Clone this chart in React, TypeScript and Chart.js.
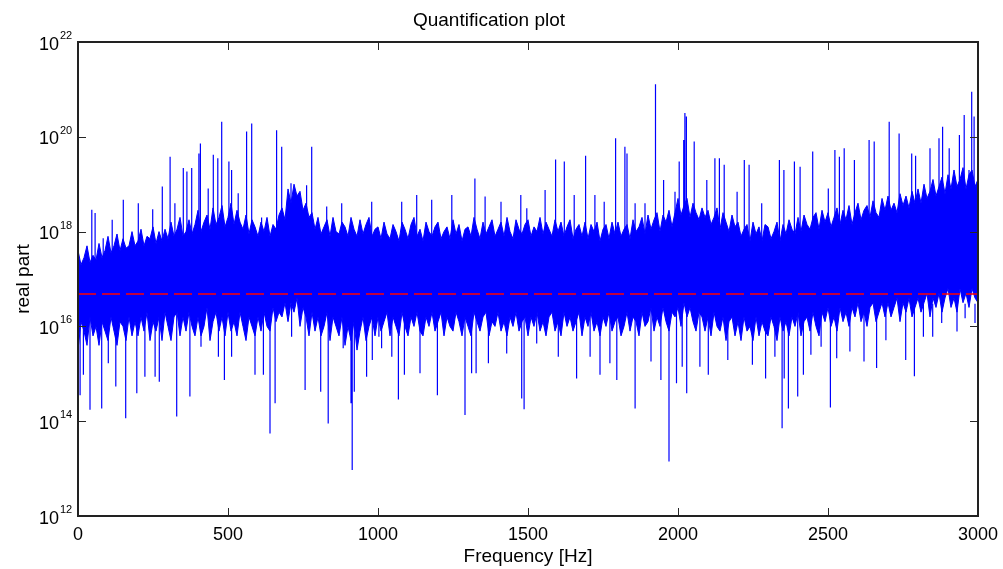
import React, { useEffect, useRef } from "react";
import { Chart, registerables } from "chart.js";

Chart.register(...registerables);

// ---------- data ----------
const TITLE = "Quantification plot";
const X_TITLE = "Frequency [Hz]";
const Y_TITLE = "real part";

const xTickValues = [0, 500, 1000, 1500, 2000, 2500, 3000];
const xTickLabels = ["0", "500", "1000", "1500", "2000", "2500", "3000"];
const yTickExponents = [12, 14, 16, 18, 20, 22];

// red dashed reference level
const thresholdLevel = 4.8e16;

// dense band: ragged upper and lower edge (log10 of value) every 10 Hz, 0..3000 Hz
const BAND_STEP_HZ = 10;
const bandTopLog10 = [
  17.6, 17.3, 17.45, 17.7, 17.35, 17.5, 17.4, 17.75, 17.45, 17.6,
  17.9, 17.55, 17.7, 17.95, 17.6, 17.85, 17.65, 17.7, 18.0, 17.7,
  17.8, 18.05, 17.7, 17.9, 17.85, 18.1, 17.75, 18.0, 17.8, 18.05,
  17.85, 18.2, 17.9, 18.05, 18.3, 17.9, 18.0, 18.25, 17.95, 18.15,
  18.45, 18.0, 18.2, 18.35, 18.05, 18.5, 18.15, 18.3, 18.55, 18.1,
  18.3, 18.6, 18.15, 18.45, 18.2, 18.05, 18.35, 17.95, 18.25, 18.1,
  17.9, 18.2, 18.0, 18.3, 17.9, 18.15, 18.05, 18.35, 18.5, 18.25,
  18.9, 18.6, 19.0, 18.75, 18.85, 18.45, 18.6, 18.3, 18.4, 18.05,
  18.3, 17.95, 18.1, 18.25, 17.9, 18.3, 18.0, 17.95, 18.2, 18.1,
  17.9, 18.3, 18.05, 17.9, 18.25, 17.95, 18.15, 18.3, 17.9, 18.05,
  18.1, 17.85, 18.2, 17.95, 17.85, 18.15, 18.0, 17.8, 18.2, 18.05,
  17.85, 18.15, 18.3, 17.9, 18.05, 17.8, 18.2, 18.0, 17.9, 18.1,
  18.2, 17.85, 18.0, 18.1, 17.85, 18.25, 17.95, 18.15, 17.8, 18.05,
  18.1, 17.9, 18.3, 18.05, 17.85, 18.2, 17.95, 18.1, 18.25, 17.9,
  18.05, 18.2, 17.9, 18.3, 18.0, 17.85, 18.25, 18.05, 17.95, 18.15,
  18.25, 17.9, 18.1, 18.0, 18.3, 17.95, 18.2, 18.05, 17.9, 18.25,
  18.0, 18.2, 17.9, 18.1, 18.25, 17.85, 18.05, 18.15, 17.9, 18.2,
  17.85, 18.15, 18.0, 18.2, 17.8, 18.05, 18.15, 17.85, 18.2, 17.95,
  18.2, 17.9, 18.05, 18.15, 17.85, 18.25, 18.0, 18.1, 18.3, 17.95,
  18.35, 18.05, 18.25, 18.4, 18.0, 18.35, 18.2, 18.45, 18.1, 18.4,
  18.7, 18.35, 18.55, 18.7, 18.3, 18.6, 18.4, 18.25, 18.5, 18.3,
  18.45, 18.15, 18.3, 18.5, 18.05, 18.4, 18.2, 18.0, 18.35, 18.1,
  18.2, 17.9, 18.05, 18.15, 17.8, 18.2, 17.95, 18.1, 17.8, 18.15,
  18.1, 17.85, 18.0, 18.2, 17.8, 18.15, 17.95, 18.25, 18.05, 17.95,
  18.3, 18.0, 18.35, 18.15, 18.05, 18.3, 18.4, 18.05, 18.45, 18.2,
  18.4, 18.1, 18.3, 18.5, 18.15, 18.45, 18.25, 18.55, 18.15, 18.4,
  18.6, 18.25, 18.45, 18.55, 18.3, 18.65, 18.4, 18.3, 18.7, 18.45,
  18.75, 18.45, 18.6, 18.4, 18.8, 18.55, 18.75, 18.5, 18.85, 18.6,
  18.9, 18.6, 19.0, 18.7, 18.85, 19.1, 18.75, 18.95, 19.15, 18.8,
  19.2, 18.9, 19.3, 18.95, 19.1, 19.35, 18.9, 19.2, 19.3, 18.95,
  19.1,
];
const bandBottomLog10 = [
  15.5, 16.1, 15.9, 15.6, 16.2, 15.8, 16.0, 15.6, 16.1, 15.9,
  15.7, 16.2, 15.9, 15.6, 16.1, 16.0, 15.7, 16.2, 15.8, 16.1,
  15.8, 16.2, 15.9, 16.3, 15.7, 16.1, 15.9, 16.2, 15.7, 16.3,
  16.0, 15.7, 16.2, 16.3, 15.8, 16.2, 15.9, 16.3, 16.0, 15.8,
  16.2, 15.8, 16.0, 16.4, 15.7, 16.1, 16.3, 15.9, 16.2, 15.8,
  16.3, 15.9, 16.1, 15.8, 16.3, 16.0, 15.7, 16.2, 16.0, 15.8,
  16.2, 15.9, 16.3, 16.0, 15.9, 16.4, 16.1, 16.3, 16.2, 16.5,
  16.1, 16.5, 16.3, 16.6, 16.0, 16.4, 16.2, 15.8, 16.3, 15.9,
  16.2, 15.8, 16.0, 16.3, 15.7, 16.2, 16.0, 15.8, 16.2, 15.6,
  16.0, 15.7, 16.1, 15.5, 15.9, 16.2, 15.7, 16.0, 16.2, 15.8,
  16.2, 15.9, 16.1, 16.3, 15.8, 16.2, 16.0, 15.8, 16.3, 16.0,
  15.8, 16.2, 16.0, 16.3, 15.9, 15.8, 16.2, 16.0, 16.3, 15.9,
  16.1, 16.3, 15.8, 16.2, 16.0, 15.9, 16.3, 16.1, 15.8, 16.2,
  16.0, 15.8, 16.3, 16.1, 15.9, 16.2, 16.3, 15.8, 16.1, 16.0,
  16.3, 15.9, 16.1, 15.8, 16.2, 16.0, 16.3, 15.9, 16.1, 16.2,
  15.8, 16.2, 16.0, 16.3, 15.9, 16.1, 15.8, 16.2, 16.3, 15.9,
  16.1, 15.8, 16.3, 16.0, 16.2, 15.9, 16.1, 16.3, 15.8, 16.2,
  16.0, 16.3, 15.9, 16.1, 15.8, 16.2, 16.0, 16.3, 15.9, 16.1,
  16.2, 15.8, 16.0, 16.3, 15.9, 16.2, 16.1, 15.8, 16.3, 16.0,
  16.1, 16.4, 15.9, 16.2, 16.0, 16.4, 16.1, 15.9, 16.3, 16.2,
  16.4, 16.0, 16.5, 16.2, 16.4, 16.1, 15.9, 16.3, 16.2, 15.9,
  16.2, 15.8, 16.3, 16.0, 15.9, 16.2, 15.7, 16.1, 16.2, 15.8,
  16.1, 15.7, 16.2, 15.9, 16.0, 15.7, 16.2, 15.8, 16.1, 15.9,
  15.8, 16.2, 16.0, 15.7, 16.2, 15.9, 16.1, 15.8, 16.2, 16.0,
  16.3, 15.8, 16.1, 16.2, 15.9, 16.3, 16.0, 15.8, 16.3, 16.1,
  16.4, 16.0, 16.2, 15.9, 16.4, 16.1, 16.3, 16.0, 16.4, 16.2,
  16.5, 16.1, 16.3, 16.0, 16.4, 16.5, 16.1, 16.3, 16.5, 16.2,
  16.5, 16.2, 16.4, 16.6, 16.1, 16.5, 16.3, 16.6, 16.2, 16.4,
  16.6, 16.3, 16.5, 16.7, 16.2, 16.6, 16.4, 16.7, 16.3, 16.6,
  16.8, 16.4, 16.6, 16.3, 16.8, 16.5, 16.7, 16.4, 16.8, 16.6,
  16.5,
];

// isolated upward spikes (Hz, log10 of peak)
const peakHz = [
  0, 46, 57, 84, 114, 151, 201, 249, 281, 307, 323, 351, 363, 379, 403, 408, 434, 451, 466, 479,
  503, 512, 534, 562, 579, 612, 662, 679, 710, 762, 779, 829, 879, 979,
  1079, 1129, 1179, 1246, 1323, 1357, 1410, 1476, 1496, 1557, 1592, 1621, 1654, 1692, 1723, 1754,
  1792, 1823, 1830, 1857, 1890, 1925, 1952, 1990, 2004,
  2019, 2023, 2028, 2054, 2096, 2123, 2138, 2154, 2197, 2221, 2237, 2279, 2338, 2353, 2388, 2407,
  2449, 2501, 2523, 2538, 2554, 2588, 2637, 2654, 2704, 2737, 2779, 2792, 2840, 2870, 2882, 2904,
  2938, 2954, 2970, 2979, 2987,
];
const peakLog10 = [
  18.49, 18.46, 18.39, 17.86, 18.25, 18.67, 18.6, 18.47, 18.95, 19.58, 18.6, 19.34, 19.27, 19.34, 19.65, 19.86, 18.91, 19.62, 19.55, 20.32,
  19.48, 19.3, 18.81, 20.11, 20.28, 18.3, 20.14, 19.79, 19.02, 18.98, 19.79, 18.53, 18.6, 18.63,
  18.63, 18.77, 18.67, 18.77, 19.12, 18.74, 18.63, 18.77, 18.49, 18.88, 19.52, 19.48, 18.77, 19.6, 18.77, 18.63,
  19.97, 19.79, 19.65, 18.6, 18.6, 21.11, 19.09, 18.84, 19.48,
  19.93, 20.5, 20.43, 19.9, 19.09, 19.55, 19.55, 19.41, 18.84, 19.51, 19.41, 18.6, 19.51, 19.3, 19.48, 19.37,
  19.69, 18.91, 19.72, 19.58, 19.76, 19.51, 19.93, 19.9, 20.32, 20.07, 19.65, 19.6, 19.76, 19.97, 20.21, 19.76,
  20.04, 20.46, 19.3, 20.95, 20.43,
];

// isolated downward spikes (Hz, log10 of minimum)
const dipHz = [
  1, 7, 18, 40, 79, 101, 126, 159, 196, 223, 257, 271, 329, 373, 410, 468, 488, 512, 590, 618,
  640, 657, 712, 757, 809, 834, 884, 910, 914, 921, 962, 981, 1003,
  1012, 1046, 1068, 1088, 1140, 1198, 1290, 1312, 1327, 1368, 1429, 1479, 1487, 1529, 1601, 1662, 1707, 1740,
  1773, 1796, 1857, 1910, 1943, 1970, 1995,
  2014, 2029, 2073, 2101, 2166, 2248, 2292, 2323, 2347, 2354, 2368, 2399, 2418, 2443, 2477, 2508, 2529, 2573,
  2620, 2662, 2693, 2759, 2788, 2818, 2849, 2879, 2930, 2957, 2990,
];
const dipLog10 = [
  13.74, 14.55, 14.98, 14.24, 14.27, 15.22, 14.73, 14.06, 14.59, 14.94, 14.94, 14.83, 14.1, 14.52, 15.57, 15.36, 14.87, 15.36, 14.98, 14.98,
  13.74, 14.38, 15.78, 14.66, 14.62, 13.95, 15.54, 14.38, 12.97, 14.62, 14.94, 15.29, 15.78,
  15.54, 15.36, 14.46, 14.98, 15.01, 14.55, 14.13, 15.01, 15.01, 15.22, 15.43, 14.48, 14.25, 15.64, 15.36, 14.9, 15.36, 14.98,
  15.22, 14.87, 14.27, 15.26, 14.87, 13.15, 14.8,
  15.15, 14.59, 15.15, 14.98, 15.29, 15.19, 14.9, 15.36, 13.85, 14.9, 14.27, 14.52, 14.98, 15.4, 15.57, 14.29, 15.33, 15.47,
  15.26, 15.12, 15.71, 15.29, 14.95, 15.78, 15.78, 16.07, 15.89, 16.17, 16.07,
];

// anchors inside the solid band from which spikes are drawn
const PEAK_BASE = 1e17;
const DIP_BASE = 3e16;

// ---------- styling ----------
const FONT = '"Liberation Sans", Arial, Helvetica, sans-serif';
const BLUE = "#0000ff";
const W = 1003;
const H = 569;
const PLOT_LEFT = 78;
const RIGHT_PAD = 25;
const PLOT_BOTTOM = 516;

const framePlugin = {
  id: "matlabFrame",
  afterDraw(chart: any) {
    const { ctx, chartArea } = chart;
    const { left, right, top, bottom } = chartArea;
    const xs = chart.scales.x;
    const ys = chart.scales.y;
    ctx.save();
    ctx.strokeStyle = "#262626";
    ctx.lineWidth = 1;
    const tl = 8;
    ctx.beginPath();
    xTickValues.forEach((v) => {
      const px = Math.round(xs.getPixelForValue(v)) + 0.5;
      ctx.moveTo(px, bottom);
      ctx.lineTo(px, bottom - tl);
      ctx.moveTo(px, top);
      ctx.lineTo(px, top + tl);
    });
    yTickExponents.forEach((e) => {
      const py = Math.round(ys.getPixelForValue(Math.pow(10, e))) + 0.5;
      ctx.moveTo(left, py);
      ctx.lineTo(left + tl, py);
      ctx.moveTo(right, py);
      ctx.lineTo(right - tl, py);
    });
    ctx.stroke();
    ctx.lineWidth = 2;
    ctx.strokeStyle = "#222222";
    ctx.strokeRect(left, top, right - left, bottom - top);

    // y tick labels with superscript exponents
    ctx.fillStyle = "#000000";
    ctx.textBaseline = "alphabetic";
    yTickExponents.forEach((e) => {
      const py = ys.getPixelForValue(Math.pow(10, e));
      ctx.font = `18px ${FONT}`;
      ctx.textAlign = "right";
      ctx.fillText("10", left - 19, py + 7.5);
      ctx.font = `11px ${FONT}`;
      ctx.textAlign = "left";
      ctx.fillText(String(e), left - 18, py - 3);
    });
    ctx.restore();
  },
};

export default function App() {
  const canvasRef = useRef<HTMLCanvasElement | null>(null);

  useEffect(() => {
    const canvas = canvasRef.current;
    if (!canvas) return;

    const bandTop = bandTopLog10.map((v, i) => ({ x: i * BAND_STEP_HZ, y: Math.pow(10, v) }));
    const bandBottom = bandBottomLog10.map((v, i) => ({ x: i * BAND_STEP_HZ, y: Math.pow(10, v) }));

    const spikes: { x: number; y: number | null }[] = [];
    peakHz.forEach((hz, i) => {
      spikes.push({ x: hz, y: PEAK_BASE }, { x: hz, y: Math.pow(10, peakLog10[i]) }, { x: hz, y: null });
    });
    dipHz.forEach((hz, i) => {
      spikes.push({ x: hz, y: DIP_BASE }, { x: hz, y: Math.pow(10, dipLog10[i]) }, { x: hz, y: null });
    });

    const threshold = [
      { x: xTickValues[0], y: thresholdLevel },
      { x: xTickValues[xTickValues.length - 1], y: thresholdLevel },
    ];

    const chart = new Chart(canvas, {
      type: "line",
      data: {
        datasets: [
          {
            label: "threshold",
            data: threshold,
            borderColor: "#ff0000",
            borderWidth: 1.5,
            borderDash: [18, 6],
            pointRadius: 0,
            fill: false,
            order: 0,
          },
          {
            label: "spikes",
            data: spikes as any,
            borderColor: BLUE,
            borderWidth: 1.2,
            pointRadius: 0,
            fill: false,
            spanGaps: false,
            order: 1,
          },
          {
            label: "band top",
            data: bandTop,
            borderColor: BLUE,
            borderWidth: 1,
            pointRadius: 0,
            fill: false,
            order: 2,
          },
          {
            label: "band bottom",
            data: bandBottom,
            borderColor: BLUE,
            backgroundColor: BLUE,
            borderWidth: 1,
            pointRadius: 0,
            fill: "-1",
            order: 3,
          },
        ],
      },
      options: {
        animation: false,
        responsive: false,
        maintainAspectRatio: false,
        devicePixelRatio: 1,
        parsing: { xAxisKey: "x", yAxisKey: "y" },
        elements: { line: { tension: 0 } },
        layout: { padding: { left: 0, right: RIGHT_PAD, top: 0, bottom: 0 } },
        plugins: {
          legend: { display: false },
          tooltip: { enabled: false },
          title: {
            display: true,
            text: TITLE,
            color: "#000000",
            font: { family: FONT, size: 19, weight: "normal" },
            padding: { top: 9, bottom: 10.2 },
          },
        },
        scales: {
          x: {
            type: "linear",
            min: 0,
            max: 3000,
            grid: { display: false, drawTicks: false },
            border: { display: false },
            afterBuildTicks: (scale: any) => {
              scale.ticks = xTickValues.map((v) => ({ value: v }));
            },
            afterFit: (scale: any) => {
              scale.height = H - PLOT_BOTTOM;
              scale.paddingLeft = 0;
              scale.paddingRight = 0;
            },
            ticks: {
              color: "#000000",
              font: { family: FONT, size: 18 },
              padding: 8,
              maxRotation: 0,
              autoSkip: false,
              callback: (_v: any, i: number) => xTickLabels[i],
            },
            title: {
              display: true,
              text: X_TITLE,
              color: "#000000",
              font: { family: FONT, size: 19 },
              padding: { top: 0, bottom: 1 },
            },
          },
          y: {
            type: "logarithmic",
            min: 1e12,
            max: 1e22,
            grid: { display: false, drawTicks: false },
            border: { display: false },
            ticks: { display: false },
            afterBuildTicks: (scale: any) => {
              scale.ticks = yTickExponents.map((e) => ({ value: Math.pow(10, e) }));
            },
            afterFit: (scale: any) => {
              scale.width = PLOT_LEFT;
              scale.paddingTop = 0;
              scale.paddingBottom = 0;
            },
            title: {
              display: true,
              text: Y_TITLE,
              color: "#000000",
              font: { family: FONT, size: 19 },
              padding: { top: 12, bottom: 0 },
            },
          },
        },
      },
      plugins: [framePlugin],
    });

    return () => chart.destroy();
  }, []);

  return (
    <div style={{ position: "absolute", left: 0, top: 0, width: W, height: H, background: "#ffffff" }}>
      <canvas ref={canvasRef} width={W} height={H} style={{ width: W, height: H, display: "block" }} />
    </div>
  );
}
